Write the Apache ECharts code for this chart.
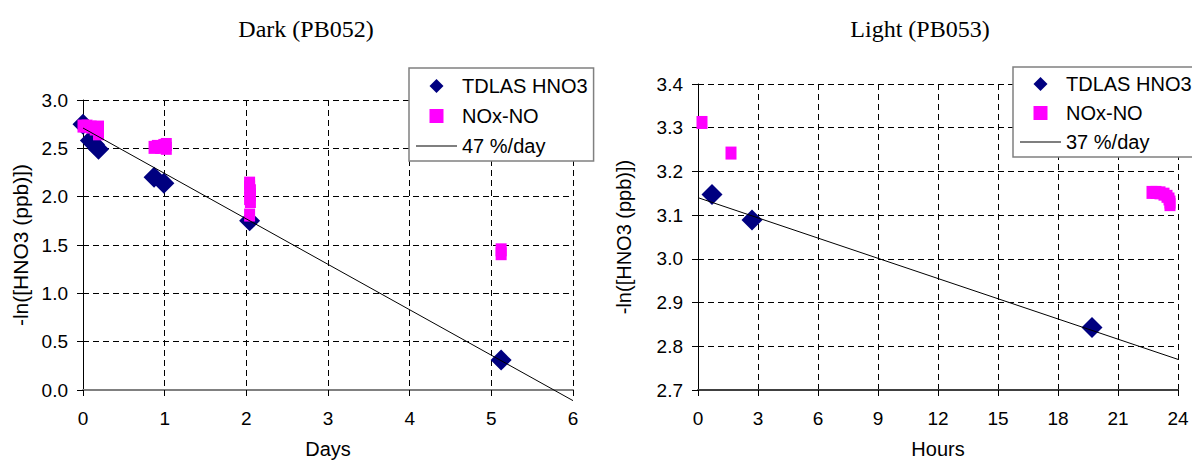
<!DOCTYPE html>
<html>
<head>
<meta charset="utf-8">
<script src="https://cdn.jsdelivr.net/npm/echarts@6/dist/echarts.min.js"></script>
<style>
  html, body { margin: 0; padding: 0; background: #fff; }
  #chart { width: 1192px; height: 464px; }
</style>
</head>
<body>
<div id="chart"></div>
<script>
// ---- Dark experiment (PB052), x in days ----
const darkTdlasDays = [0.00, 0.09, 0.14, 0.19, 0.87, 0.99, 2.04, 5.12];
const darkTdlasLn   = [2.75, 2.58, 2.54, 2.49, 2.20, 2.14, 1.75, 0.31];

const darkNoxDays = [0.00, 0.05, 0.10, 0.15, 0.19, 0.19,
                     0.87, 0.91, 0.95, 0.99, 1.02, 1.02,
                     2.04, 2.04, 2.05, 2.05, 2.04, 2.05, 2.04,
                     5.12, 5.12];
const darkNoxLn   = [2.73, 2.73, 2.72, 2.70, 2.72, 2.65,
                     2.51, 2.52, 2.51, 2.53, 2.54, 2.50,
                     2.14, 2.10, 2.06, 2.02, 1.98, 1.95, 1.81,
                     1.45, 1.41];

// first-order loss fit: intercept and rate (per day)
const darkFitIntercept = 2.71;
const darkFitRate = 0.47;
const darkFitDays = [0, 6];

// ---- Light experiment (PB053), x in hours ----
const lightTdlasHours = [0.7, 2.7, 19.7];
const lightTdlasLn    = [3.147, 3.089, 2.843];

const lightNoxHours = [0.2, 1.65, 22.7, 22.9, 23.1, 23.3, 23.45, 23.55, 23.6, 23.6];
const lightNoxLn    = [3.312, 3.242, 3.152, 3.152, 3.151, 3.148, 3.143, 3.137, 3.130, 3.124];

const lightFitIntercept = 3.14;
const lightFitRate = 0.37;          // per day
const lightFitHours = [0, 24];

// ---- axis ticks ----
const darkXTicks  = { min: 0, max: 6, interval: 1 };
const darkYTicks  = { min: 0, max: 3, interval: 0.5 };
const lightXTicks = { min: 0, max: 24, interval: 3 };
const lightYTicks = { min: 2.7, max: 3.4, interval: 0.1 };

const SANS  = '"Liberation Sans", Arial, Helvetica, sans-serif';
const SERIF = '"Liberation Serif", "Times New Roman", Times, serif';

const NAVY = '#000080';
const MAGENTA = '#FF00FF';

// legend glyphs as paths so they keep their aspect inside the icon box
const ICON_DIAMOND = 'path://M0,-1L1,0L0,1L-1,0Z';
const ICON_SQUARE  = 'path://M0,0H1V1H0Z';
const ICON_LINE    = 'path://M0,0H41V1H0Z';

const zip = (xs, ys) => xs.map((x, i) => [x, ys[i]]);

function axis(extra) {
  const base = {
    type: 'value',
    axisLine: { show: true, onZero: false, lineStyle: { color: '#000', width: 1 } },
    axisTick: { show: true, inside: false, length: 6, lineStyle: { color: '#000', width: 1 } },
    splitLine: { show: true, lineStyle: { color: '#000', width: 1, type: [6, 4] } },
    axisLabel: { color: '#000', fontFamily: SANS, fontSize: 19 },
    nameLocation: 'middle',
    nameTextStyle: { color: '#000', fontFamily: SANS, fontSize: 20 }
  };
  const out = Object.assign({}, base, extra);
  if (extra.axisLine) out.axisLine = Object.assign({}, base.axisLine, extra.axisLine);
  if (extra.axisLabel) out.axisLabel = Object.assign({}, base.axisLabel, extra.axisLabel);
  if (extra.nameTextStyle) out.nameTextStyle = Object.assign({}, base.nameTextStyle, extra.nameTextStyle);
  return out;
}

const oneDecimal = v => v.toFixed(1);

function legend(fitName, left, top, padding, gap) {
  return {
    data: [
      { name: 'TDLAS HNO3', icon: ICON_DIAMOND },
      { name: 'NOx-NO', icon: ICON_SQUARE },
      { name: fitName, icon: ICON_LINE }
    ],
    orient: 'vertical',
    left: left,
    top: top,
    padding: padding,
    itemGap: gap,
    itemWidth: 41,
    itemHeight: 14,
    symbolKeepAspect: true,
    backgroundColor: '#fff',
    borderColor: '#808080',
    borderWidth: 1.5,
    borderRadius: 0,
    selectedMode: false,
    textStyle: { color: '#000', fontFamily: SANS, fontSize: 20 }
  };
}

const darkFitName = darkFitRate * 100 + ' %/day';
const lightFitName = lightFitRate * 100 + ' %/day';

const option = {
  animation: false,
  backgroundColor: '#fff',
  graphic: [
    { type: 'text', x: 306, y: 29,
      style: { text: 'Dark (PB052)', fill: '#000', font: '24px ' + SERIF, align: 'center', verticalAlign: 'middle' } },
    { type: 'text', x: 920, y: 29,
      style: { text: 'Light (PB053)', fill: '#000', font: '24px ' + SERIF, align: 'center', verticalAlign: 'middle' } }
  ],
  grid: [
    { left: 83, top: 100, width: 490, height: 300, containLabel: false },
    { left: 698, top: 84, width: 480, height: 315, containLabel: false }
  ],
  xAxis: [
    axis(Object.assign({ gridIndex: 0, name: 'Days', nameGap: 49,
      axisLine: { lineStyle: { color: '#808080', width: 2 } },
      axisLabel: { margin: 19 } }, darkXTicks)),
    axis(Object.assign({ gridIndex: 1, name: 'Hours', nameGap: 49,
      axisLine: { lineStyle: { color: '#404040', width: 2 } },
      axisLabel: { margin: 19 } }, lightXTicks))
  ],
  yAxis: [
    axis(Object.assign({ gridIndex: 0, name: '-ln([HNO3 (ppb)])', nameGap: 52, nameRotate: 90,
      nameTextStyle: { fontSize: 21 },
      axisLabel: { margin: 15, formatter: oneDecimal } }, darkYTicks)),
    axis(Object.assign({ gridIndex: 1, name: '-ln([HNO3 (ppb)])', nameGap: 64, nameRotate: 90,
      axisLabel: { margin: 15, formatter: oneDecimal } }, lightYTicks))
  ],
  legend: [
    legend(darkFitName, 409, 68, [8, 6, 5, 7], 10),
    legend(lightFitName, 1013, 67, [7, 10, 5, 7], 9)
  ],
  series: [
    { name: 'TDLAS HNO3', type: 'scatter', xAxisIndex: 0, yAxisIndex: 0,
      symbol: 'diamond', symbolSize: 21, itemStyle: { color: NAVY, opacity: 1 },
      data: zip(darkTdlasDays, darkTdlasLn) },
    { name: 'NOx-NO', type: 'scatter', xAxisIndex: 0, yAxisIndex: 0,
      symbol: 'rect', symbolSize: [11, 13], itemStyle: { color: MAGENTA, opacity: 1 },
      data: zip(darkNoxDays, darkNoxLn) },
    { name: darkFitName, type: 'line', xAxisIndex: 0, yAxisIndex: 0,
      symbol: 'none', clip: false, z: 5,
      lineStyle: { color: '#000', width: 1 }, itemStyle: { color: '#000' },
      data: darkFitDays.map(d => [d, darkFitIntercept - darkFitRate * d]) },

    { name: 'TDLAS HNO3', type: 'scatter', xAxisIndex: 1, yAxisIndex: 1,
      symbol: 'diamond', symbolSize: 21, itemStyle: { color: NAVY, opacity: 1 },
      data: zip(lightTdlasHours, lightTdlasLn) },
    { name: 'NOx-NO', type: 'scatter', xAxisIndex: 1, yAxisIndex: 1,
      symbol: 'rect', symbolSize: [11, 13], itemStyle: { color: MAGENTA, opacity: 1 },
      data: zip(lightNoxHours, lightNoxLn) },
    { name: lightFitName, type: 'line', xAxisIndex: 1, yAxisIndex: 1,
      symbol: 'none', clip: false, z: 5,
      lineStyle: { color: '#000', width: 1 }, itemStyle: { color: '#000' },
      data: lightFitHours.map(h => [h, lightFitIntercept - lightFitRate * h / 24]) }
  ]
};

const chart = echarts.init(document.getElementById('chart'), null, { renderer: 'svg' });
chart.setOption(option);
</script>
</body>
</html>
